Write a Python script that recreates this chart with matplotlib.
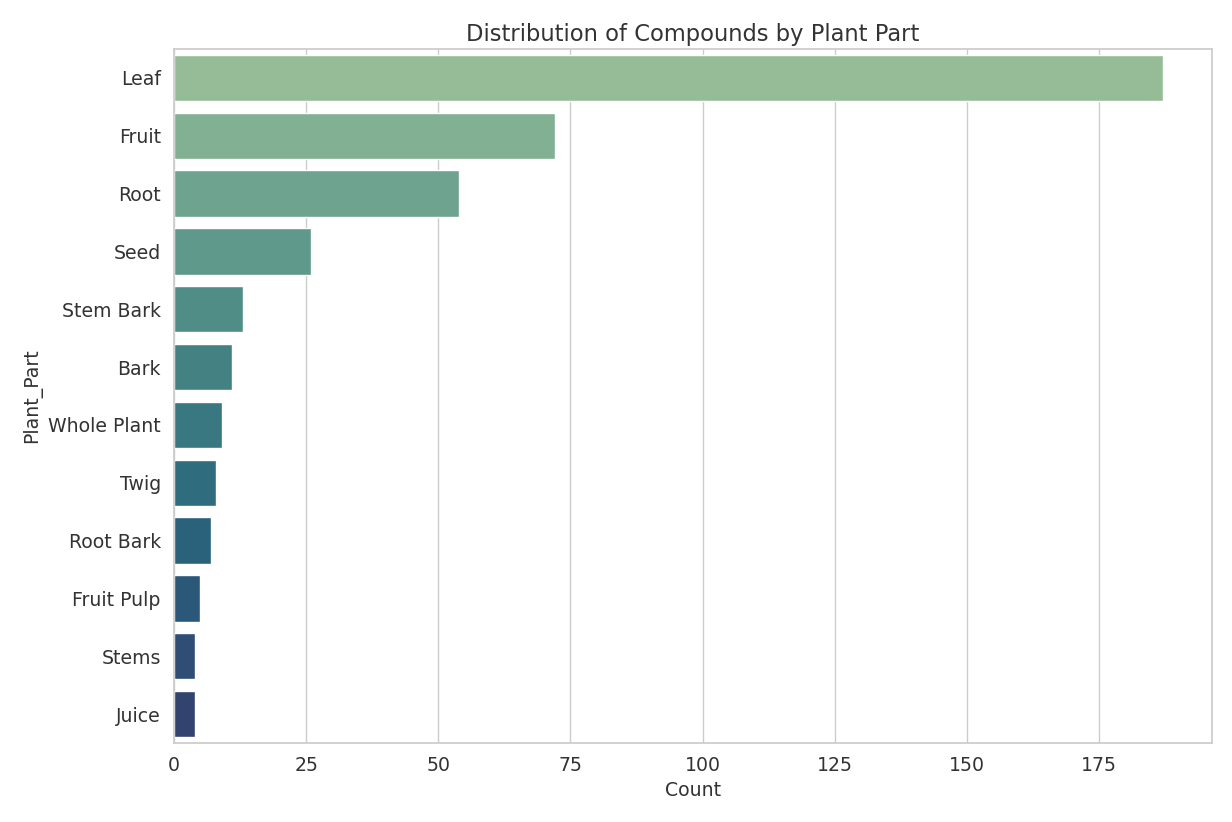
import matplotlib
matplotlib.use("Agg")
import matplotlib.pyplot as plt
import seaborn as sns
import pandas as pd

plant_parts = ["Leaf", "Fruit", "Root", "Seed", "Stem Bark", "Bark", "Whole Plant",
               "Twig", "Root Bark", "Fruit Pulp", "Stems", "Juice"]
counts = [187, 72, 54, 26, 13, 11, 9, 8, 7, 5, 4, 4]

sns.set_theme(style="whitegrid")
plt.rcParams['font.family'] = ['DejaVu Sans']

df = pd.DataFrame({"Plant_Part": plant_parts, "Count": counts})

fig = plt.figure(figsize=(12.32, 8.22), dpi=100)
ax = fig.add_axes([174/1232, 1-743/822, (1212-174)/1232, (743-49)/822])
sns.barplot(data=df, y="Plant_Part", x="Count", hue="Plant_Part",
            palette=sns.color_palette("crest", len(plant_parts)), legend=False, ax=ax)
ax.set_title("Distribution of Compounds by Plant Part", fontsize=16.3, color="#333333")
ax.set_xlabel("Count", fontsize=13.6, color="#333333")
ax.set_ylabel("Plant_Part", fontsize=13.6, color="#333333")
ax.tick_params(labelsize=13.6, labelcolor="#333333")
fig.savefig("out.png", dpi=100)
